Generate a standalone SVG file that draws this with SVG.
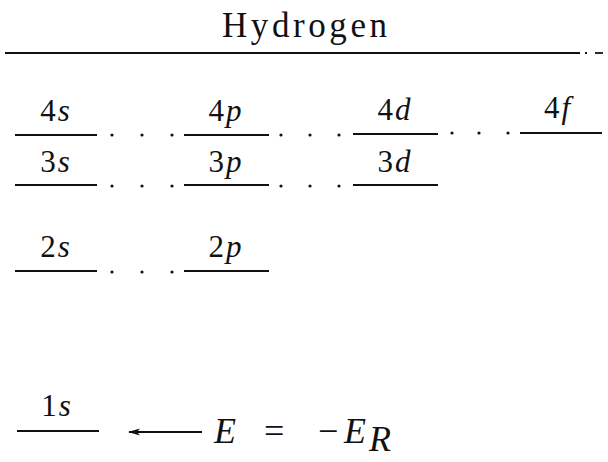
<svg xmlns="http://www.w3.org/2000/svg" width="608" height="462" viewBox="0 0 608 462">
<style>
text{font-family:'Liberation Serif','DejaVu Serif',serif;fill:#111}
.lvl{stroke:#111;stroke-width:1.8;fill:none}
.lbl{font-size:31px;text-anchor:middle;letter-spacing:2px}
.it{font-style:italic}
.dot{fill:#111}
.math{font-size:36px}
</style>
<defs>
<marker id="ah" markerWidth="12" markerHeight="8" refX="11" refY="4" orient="auto" markerUnits="userSpaceOnUse">
<path d="M12,4 L0,0.5 L3,4 L0,7.5 Z" fill="#111"/>
</marker>
</defs>
<rect width="608" height="462" fill="#fff"/>
<g id="title">
<text x="222" y="37" font-size="35" textLength="165" lengthAdjust="spacing">Hydrogen</text>
<line x1="5" y1="53" x2="580" y2="53" class="lvl"/>
<line x1="585" y1="53" x2="587" y2="53" class="lvl"/>
<line x1="595" y1="53" x2="603" y2="53" class="lvl"/>
</g>
<g id="level-4s"><line class="lvl" x1="15" y1="135" x2="97" y2="135"/><text class="lbl" x="56" y="121">4<tspan class="it">s</tspan></text></g>
<g id="level-4p"><line class="lvl" x1="184" y1="135" x2="269" y2="135"/><text class="lbl" x="226" y="121">4<tspan class="it">p</tspan></text></g>
<g id="level-4d"><line class="lvl" x1="353" y1="134" x2="438" y2="134"/><text class="lbl" x="395" y="120">4<tspan class="it">d</tspan></text></g>
<g id="level-4f"><line class="lvl" x1="520" y1="133" x2="602" y2="133"/><text class="lbl" x="558" y="118">4<tspan class="it">f</tspan></text></g>
<g id="level-3s"><line class="lvl" x1="15" y1="185" x2="97" y2="185"/><text class="lbl" x="56" y="172">3<tspan class="it">s</tspan></text></g>
<g id="level-3p"><line class="lvl" x1="184" y1="185" x2="269" y2="185"/><text class="lbl" x="226" y="172">3<tspan class="it">p</tspan></text></g>
<g id="level-3d"><line class="lvl" x1="353" y1="185" x2="438" y2="185"/><text class="lbl" x="395" y="172">3<tspan class="it">d</tspan></text></g>
<g id="level-2s"><line class="lvl" x1="15" y1="271" x2="97" y2="271"/><text class="lbl" x="56" y="257">2<tspan class="it">s</tspan></text></g>
<g id="level-2p"><line class="lvl" x1="184" y1="271" x2="269" y2="271"/><text class="lbl" x="226" y="257">2<tspan class="it">p</tspan></text></g>
<g id="level-1s"><line class="lvl" x1="17" y1="431" x2="99" y2="431"/><text class="lbl" x="57" y="416">1<tspan class="it">s</tspan></text></g>
<g id="energy-label">
<text class="math" x="214" y="443" font-style="italic">E</text>
<text class="math" x="264" y="443">=</text>
<text class="math" x="318" y="443">−</text>
<text class="math" x="344" y="443" font-style="italic">E</text>
<text class="math" x="369" y="451" font-size="22" font-style="italic">R</text>
</g>
<g id="connectors">
<g class="dot">
<circle cx="112" cy="135" r="1.6"/><circle cx="142" cy="135" r="1.6"/><circle cx="172" cy="135" r="1.6"/>
<circle cx="281" cy="135" r="1.6"/><circle cx="310" cy="135" r="1.6"/><circle cx="339" cy="135" r="1.6"/>
<circle cx="452" cy="133" r="1.6"/><circle cx="479" cy="133" r="1.6"/><circle cx="508" cy="133" r="1.6"/>
<circle cx="112" cy="186" r="1.6"/><circle cx="142" cy="186" r="1.6"/><circle cx="172" cy="186" r="1.6"/>
<circle cx="281" cy="186" r="1.6"/><circle cx="310" cy="186" r="1.6"/><circle cx="339" cy="186" r="1.6"/>
<circle cx="112" cy="272" r="1.6"/><circle cx="142" cy="272" r="1.6"/><circle cx="172" cy="272" r="1.6"/>
</g>
<line x1="202" y1="432" x2="129" y2="432" stroke="#111" stroke-width="1.8" marker-end="url(#ah)"/>
</g>
</svg>
